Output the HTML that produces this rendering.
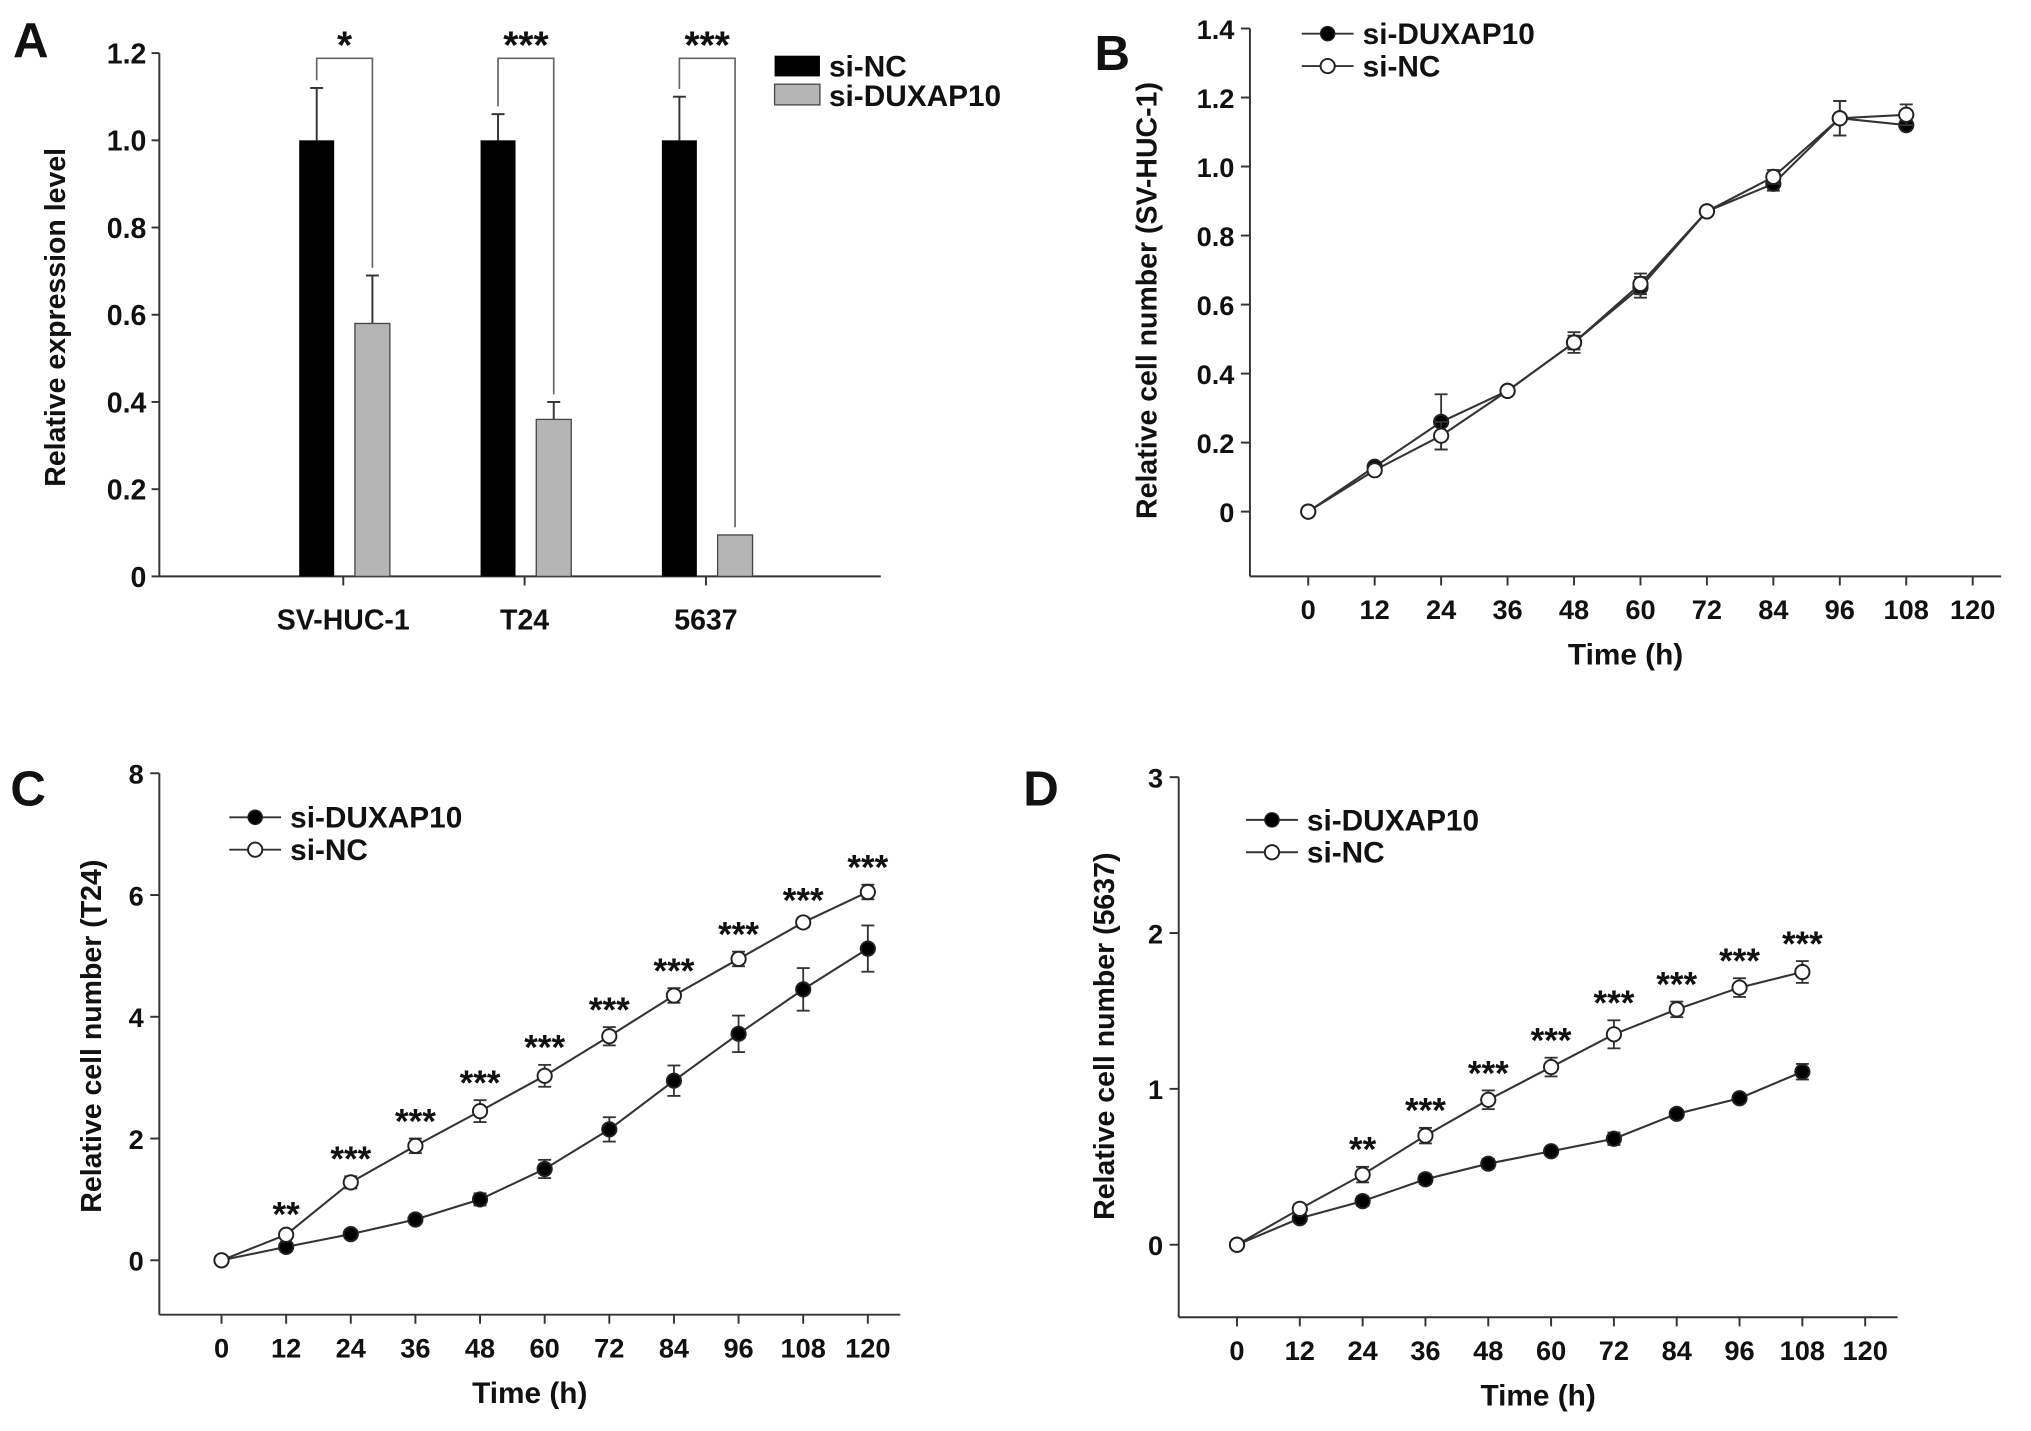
<!DOCTYPE html>
<html><head><meta charset="utf-8"><style>
html,body{margin:0;padding:0;background:#fff}
svg{display:block;font-family:"Liberation Sans",Arial,sans-serif;font-weight:bold}
</style></head><body>
<svg id="fig" width="2031" height="1431" viewBox="0 0 1568 1104.8" xmlns="http://www.w3.org/2000/svg"></svg>
<script>
// Panel A data
const aCategories = ["SV-HUC-1","T24","5637"];
const aNC = [1.0,1.0,1.0];
const aNCerr = [0.12,0.06,0.10];
const aDUX = [0.58,0.36,0.095];
const aDUXerr = [0.11,0.04,0];
const aSig = ["*","***","***"];
const aTicks = [0,0.2,0.4,0.6,0.8,1.0,1.2];
// Panel B data
const bTime = [0,12,24,36,48,60,72,84,96,108];
const bDUX = [0,0.13,0.26,0.35,0.49,0.65,0.87,0.95,1.14,1.12];
const bDUXerr = [0.01,0.01,0.08,0.01,0.02,0.03,0.01,0.02,0.05,0.01];
const bNC = [0,0.12,0.22,0.35,0.49,0.66,0.87,0.97,1.14,1.15];
const bNCerr = [0.01,0.01,0.04,0.01,0.03,0.03,0.01,0.02,0.05,0.03];
const bYTicks = [0,0.2,0.4,0.6,0.8,1.0,1.2,1.4];
const bXTicks = [0,12,24,36,48,60,72,84,96,108,120];
// Panel C data
const cTime = [0,12,24,36,48,60,72,84,96,108,120];
const cDUX = [0,0.22,0.43,0.67,1.0,1.5,2.15,2.95,3.72,4.45,5.12];
const cDUXerr = [0.02,0.05,0.07,0.07,0.1,0.15,0.2,0.25,0.3,0.35,0.38];
const cNC = [0,0.42,1.28,1.88,2.45,3.03,3.68,4.35,4.95,5.55,6.05];
const cNCerr = [0.02,0.05,0.1,0.12,0.18,0.18,0.15,0.12,0.12,0.08,0.12];
const cSig = ["","**","***","***","***","***","***","***","***","***","***"];
const cYTicks = [0,2,4,6,8];
const cXTicks = [0,12,24,36,48,60,72,84,96,108,120];
// Panel D data
const dTime = [0,12,24,36,48,60,72,84,96,108];
const dDUX = [0,0.17,0.28,0.42,0.52,0.6,0.68,0.84,0.94,1.11];
const dDUXerr = [0.01,0.02,0.03,0.03,0.03,0.02,0.04,0.02,0.02,0.05];
const dNC = [0,0.23,0.45,0.7,0.93,1.14,1.35,1.51,1.65,1.75];
const dNCerr = [0.01,0.03,0.05,0.05,0.06,0.06,0.09,0.05,0.06,0.07];
const dSig = ["","","**","***","***","***","***","***","***","***"];
const dYTicks = [0,1,2,3];
const dXTicks = [0,12,24,36,48,60,72,84,96,108,120];

const svg = document.getElementById('fig');
const NS = "http://www.w3.org/2000/svg";
function mk(tag, attrs, parent, name, text){
  const e = document.createElementNS(NS, tag);
  for (const k in attrs) e.setAttribute(k, attrs[k]);
  
  
  if (text !== undefined) e.textContent = text;
  (parent||svg).appendChild(e);
  return e;
}
function line(x1,y1,x2,y2,name,w,c){ return mk('line',{x1,y1,x2,y2,stroke:c||'#333','stroke-width':w||1.5},null,name); }
function text(x,y,s,name,size,anchor,extra){ const a=Object.assign({x,y,'font-size':size||20,'text-anchor':anchor||'middle',fill:'#111'},extra||{}); return mk('text',a,null,name,s); }

// Panel letters
text(10,44,"A","panel-label-a",38,"start");
text(845,54,"B","panel-label-b",38,"start");
text(8,622,"C","panel-label-c",38,"start");
text(790,622,"D","panel-label-d",38,"start");

// ---------- Panel A ----------
(function(){
  const x0=123, xEnd=680, y0=445, yTop=41, vmax=1.2;
  const y = v => y0 - v/vmax*(y0-yTop);
  const centers=[265,405,545];
  line(x0,yTop,x0,y0,"a-y-axis");
  line(x0,y0,xEnd,y0,"a-x-axis");
  aTicks.forEach(t=>{
    line(x0-6,y(t),x0,y(t),"a-y-tick");
    text(113,y(t)+8,t===0?"0":t.toFixed(1),"a-y-tick-label",22,"end");
  });
  const tl=text(50,245,"Relative expression level","a-y-axis-title",22,"middle");
  tl.setAttribute('transform','rotate(-90 50 245)');
  aCategories.forEach((c,i)=>{
    const cx=centers[i];
    line(cx,y0,cx,y0+7,"a-x-tick");
    text(cx,486,c,"a-x-tick-label",22,"middle");
    const bx=cx-34, gx=cx+9, w=27;
    if(aNCerr[i]>0){ line(bx+w/2,y(aNC[i]),bx+w/2,y(aNC[i]+aNCerr[i]),"a-nc-error"); line(bx+w/2-5,y(aNC[i]+aNCerr[i]),bx+w/2+5,y(aNC[i]+aNCerr[i]),"a-nc-error-cap"); }
    if(aDUXerr[i]>0){ line(gx+w/2,y(aDUX[i]),gx+w/2,y(aDUX[i]+aDUXerr[i]),"a-dux-error"); line(gx+w/2-5,y(aDUX[i]+aDUXerr[i]),gx+w/2+5,y(aDUX[i]+aDUXerr[i]),"a-dux-error-cap"); }
    mk('rect',{x:bx,y:y(aNC[i]),width:w,height:y0-y(aNC[i]),fill:'#000'},null,"a-bar-si-nc-"+c.toLowerCase());
    mk('rect',{x:gx,y:y(aDUX[i]),width:w,height:y0-y(aDUX[i]),fill:'#b5b5b5',stroke:'#444','stroke-width':1},null,"a-bar-si-duxap10-"+c.toLowerCase());
    const top=y(1.2)+4, lx=bx+w/2, rx=gx+w/2;
    const lb=y(aNC[i]+aNCerr[i])-6, rb=y(aDUX[i]+aDUXerr[i])-6;
    mk('polyline',{points:`${lx},${lb} ${lx},${top} ${rx},${top} ${rx},${rb}`,fill:'none',stroke:'#666','stroke-width':1.3},null,"a-significance-bracket");
    text((lx+rx)/2,top,aSig[i],"a-significance-stars",30,"middle");
  });
  mk('rect',{x:598,y:43,width:35,height:16,fill:'#000'},null,"a-legend-swatch-si-nc");
  text(640,59,"si-NC","a-legend-label-si-nc",23,"start");
  mk('rect',{x:598,y:65,width:35,height:16,fill:'#b5b5b5',stroke:'#444'},null,"a-legend-swatch-si-duxap10");
  text(640,82,"si-DUXAP10","a-legend-label-si-duxap10",23,"start");
})();

function lineChart(p){
  const xs = v => p.x0px + v/p.xmax*(p.xmaxpx-p.x0px);
  const ys = v => p.y0px - v/p.ymax*(p.y0px-p.ymaxpx);
  line(p.axX,p.ymaxpx,p.axX,p.axBottom,p.id+"-y-axis");
  line(p.axX,p.axBottom,p.axRight,p.axBottom,p.id+"-x-axis");
  p.yTicks.forEach(t=>{
    line(p.axX-7,ys(t),p.axX,ys(t),p.id+"-y-tick");
    text(p.axX-12,ys(t)+8,p.yFmt(t),p.id+"-y-tick-label",21,"end");
  });
  p.xTicks.forEach(t=>{
    line(xs(t),p.axBottom,xs(t),p.axBottom+7,p.id+"-x-tick");
    text(xs(t),p.axBottom+33,String(t),p.id+"-x-tick-label",21,"middle");
  });
  text((p.axX+p.axRight)/2,p.axBottom+68,"Time (h)",p.id+"-x-axis-title",23,"middle");
  const yl=text(p.yTitleX,p.yTitleY,p.yTitle,p.id+"-y-axis-title",22,"middle");
  yl.setAttribute('transform',`rotate(-90 ${p.yTitleX} ${p.yTitleY})`);
  function series(vals,errs,filled,name){
    const pts = p.time.map((t,i)=>xs(t)+","+ys(vals[i])).join(" ");
    mk('polyline',{points:pts,fill:'none',stroke:'#333','stroke-width':1.6},null,p.id+"-line-"+name);
    p.time.forEach((t,i)=>{
      const cx=xs(t), lo=ys(vals[i]-errs[i]), hi=ys(vals[i]+errs[i]);
      line(cx,lo,cx,hi,p.id+"-error-"+name,1.4);
      line(cx-5,hi,cx+5,hi,p.id+"-error-cap-"+name,1.4);
      line(cx-5,lo,cx+5,lo,p.id+"-error-cap-"+name,1.4);
    });
    p.time.forEach((t,i)=>{
      mk('circle',{cx:xs(t),cy:ys(vals[i]),r:5.5,fill:filled?'#000':'#fff',stroke:'#222','stroke-width':1.5},null,p.id+"-point-"+name);
    });
  }
  series(p.dux,p.duxErr,true,"si-duxap10");
  series(p.nc,p.ncErr,false,"si-nc");
  if(p.sig) p.time.forEach((t,i)=>{ if(p.sig[i]) text(xs(t),ys(p.nc[i]+p.ncErr[i])-4,p.sig[i],p.id+"-significance-stars",27,"middle"); });
  const lx=p.legX, ly=p.legY;
  line(lx,ly,lx+40,ly,p.id+"-legend-line-si-duxap10");
  mk('circle',{cx:lx+20,cy:ly,r:5.5,fill:'#000',stroke:'#222'},null,p.id+"-legend-marker-si-duxap10");
  text(lx+47,ly+8,"si-DUXAP10",p.id+"-legend-label-si-duxap10",23,"start");
  line(lx,ly+25,lx+40,ly+25,p.id+"-legend-line-si-nc");
  mk('circle',{cx:lx+20,cy:ly+25,r:5.5,fill:'#fff',stroke:'#222','stroke-width':1.5},null,p.id+"-legend-marker-si-nc");
  text(lx+47,ly+33,"si-NC",p.id+"-legend-label-si-nc",23,"start");
}

lineChart({id:"b",time:bTime,dux:bDUX,duxErr:bDUXerr,nc:bNC,ncErr:bNCerr,
  x0px:1010,xmaxpx:1523,xmax:120,y0px:395,ymaxpx:22,ymax:1.4,
  axX:965,axBottom:445,axRight:1545,yTicks:bYTicks,xTicks:bXTicks,
  yFmt:t=>t===0?"0":t.toFixed(1),yTitle:"Relative cell number (SV-HUC-1)",yTitleX:893,yTitleY:232,legX:1005,legY:26});
lineChart({id:"c",time:cTime,dux:cDUX,duxErr:cDUXerr,nc:cNC,ncErr:cNCerr,sig:cSig,
  x0px:171,xmaxpx:670,xmax:120,y0px:973,ymaxpx:597,ymax:8,
  axX:123,axBottom:1015,axRight:695,yTicks:cYTicks,xTicks:cXTicks,
  yFmt:t=>String(t),yTitle:"Relative cell number (T24)",yTitleX:78,yTitleY:800,legX:177,legY:631});
lineChart({id:"d",time:dTime,dux:dDUX,duxErr:dDUXerr,nc:dNC,ncErr:dNCerr,sig:dSig,
  x0px:955,xmaxpx:1440,xmax:120,y0px:961,ymaxpx:600,ymax:3,
  axX:910,axBottom:1017,axRight:1465,yTicks:dYTicks,xTicks:dXTicks,
  yFmt:t=>String(t),yTitle:"Relative cell number (5637)",yTitleX:860,yTitleY:800,legX:962,legY:633});
</script>
</body></html>
